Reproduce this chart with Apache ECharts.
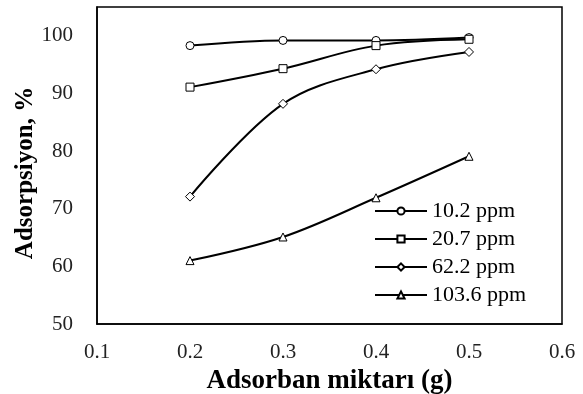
<!DOCTYPE html>
<html><head><meta charset="utf-8">
<script src="https://cdn.jsdelivr.net/npm/echarts@6/dist/echarts.min.js"></script>
<style>html,body{margin:0;padding:0;background:#fff}#c{width:583px;height:394px}</style>
</head><body><div id="c"></div>
<script>
const xValues = [0.2, 0.3, 0.4, 0.5];
const seriesNames = ['10.2 ppm', '20.7 ppm', '62.2 ppm', '103.6 ppm'];
const s10 = [98.3, 99.2, 99.2, 99.7];
const s20 = [91.1, 94.3, 98.3, 99.4];
const s62 = [72.1, 88.2, 94.2, 97.2];
const s103 = [61.0, 65.1, 71.9, 79.1];
const symbols = ['circle', 'rect', 'diamond', 'triangle'];
const allData = [s10, s20, s62, s103];
const xTitle = 'Adsorban miktarı (g)';
const yTitle = 'Adsorpsiyon, %';

const font = '"Liberation Serif", "Times New Roman", serif';
const chart = echarts.init(document.getElementById('c'));
chart.setOption({
  animation: false,
  backgroundColor: '#fff',
  grid: {left: 97, right: 21, top: 7, bottom: 70, show: true, borderColor: '#000', borderWidth: 1.5,
    backgroundColor: 'transparent', outerBoundsMode: 'none', containLabel: false},
  xAxis: {
    type: 'value', min: 0.1, max: 0.6, interval: 0.1,
    axisLine: {show: true, lineStyle: {color: '#000', width: 1.5}},
    axisTick: {show: false}, splitLine: {show: false},
    axisLabel: {color: '#222', fontFamily: font, fontSize: 21, margin: 18, formatter: v => v.toFixed(1)},
    name: xTitle, nameLocation: 'middle', nameGap: 43,
    nameTextStyle: {color: '#000', fontFamily: font, fontSize: 27, fontWeight: 'bold'}
  },
  yAxis: {
    type: 'value', min: 50, max: 105, interval: 10,
    axisLine: {show: true, lineStyle: {color: '#000', width: 1.5}},
    axisTick: {show: false}, splitLine: {show: false},
    axisLabel: {color: '#222', fontFamily: font, fontSize: 21, margin: 24, showMaxLabel: false,
      formatter: v => (v > 100 ? '' : v)}
  },
  graphic: [{
    type: 'text', x: 26, y: 173, rotation: Math.PI / 2,
    style: {text: yTitle, fill: '#000', font: 'bold 25px ' + font, align: 'center', verticalAlign: 'middle'}
  }],
  legend: {
    orient: 'vertical', left: 369, top: 195, itemWidth: 52, itemHeight: 9, itemGap: 6,
    textStyle: {color: '#000', fontFamily: font, fontSize: 22},
    data: seriesNames
  },
  series: seriesNames.map((n, i) => ({
    name: n, type: 'line', smooth: 0.35,
    data: xValues.map((x, j) => [x, allData[i][j]]),
    symbol: symbols[i], symbolSize: i === 2 ? 9 : 8, showSymbol: true,
    lineStyle: {color: '#000', width: 2},
    itemStyle: {color: '#fff', borderColor: '#000', borderWidth: 1}
  }))
});
</script></body></html>
